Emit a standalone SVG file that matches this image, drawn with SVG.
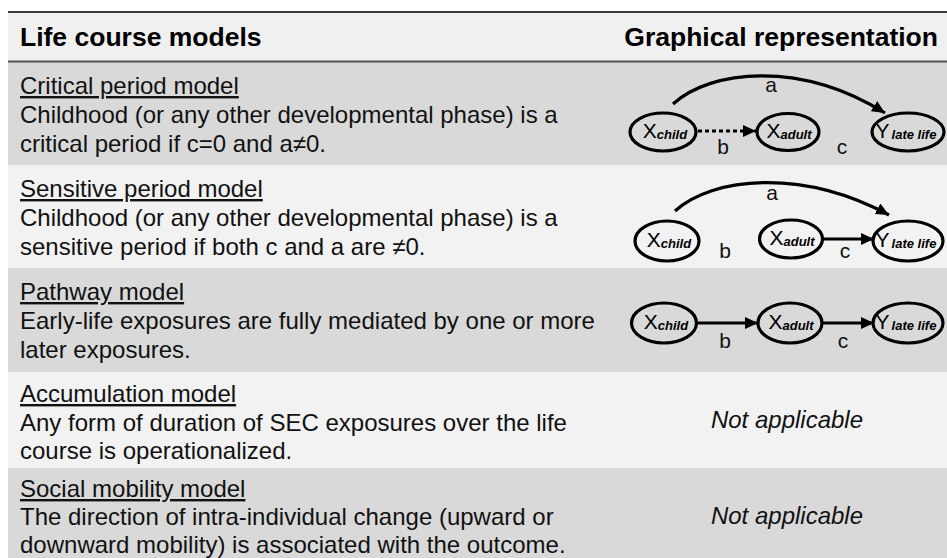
<svg xmlns="http://www.w3.org/2000/svg" width="947" height="558" viewBox="0 0 947 558">
<defs>
<style>
.t{font-family:"Liberation Sans",Arial,sans-serif;font-size:24px;fill:#111}
.h{font-family:"Liberation Sans",Arial,sans-serif;font-size:26.5px;font-weight:bold;fill:#000}
.u{text-decoration:underline}
.na{font-family:"Liberation Sans",Arial,sans-serif;font-size:24px;font-style:italic;fill:#111}
.nd{fill:none;stroke:#000;stroke-width:3.2}
.nt{font-family:"Liberation Sans",Arial,sans-serif;font-size:21px;fill:#000;text-anchor:middle}
.sb{font-size:13px;font-weight:bold;font-style:italic}
.lb{font-family:"Liberation Sans",Arial,sans-serif;font-size:21px;fill:#111;text-anchor:middle}
.ed{fill:none;stroke:#000;stroke-width:3.2}
</style>
<marker id="ah" markerUnits="userSpaceOnUse" markerWidth="14" markerHeight="13" refX="13" refY="6" orient="auto">
<path d="M0,0 L13,6 L0,12 z" fill="#000"/>
</marker>
</defs>
<rect width="947" height="558" fill="#fff"/>
<!-- backgrounds -->
<rect x="8" y="12" width="939" height="50" fill="#f0f0f0"/>
<rect x="8" y="62" width="939" height="103" fill="#d9d9d9"/>
<rect x="8" y="165" width="939" height="103" fill="#f2f2f2"/>
<rect x="8" y="268" width="939" height="104" fill="#d9d9d9"/>
<rect x="8" y="372" width="939" height="96" fill="#f2f2f2"/>
<rect x="8" y="468" width="939" height="90" fill="#d9d9d9"/>
<line x1="8" y1="12" x2="947" y2="12" stroke="#3a3a3a" stroke-width="2"/>
<line x1="8" y1="61.5" x2="947" y2="61.5" stroke="#555" stroke-width="2"/>
<!-- header -->
<text class="h" x="20" y="46">Life course models</text>
<text class="h" x="938" y="46" text-anchor="end">Graphical representation</text>
<!-- row texts -->
<text class="t u" x="20" y="94">Critical period model</text>
<text class="t" x="20" y="123">Childhood (or any other developmental phase) is a</text>
<text class="t" x="20" y="152">critical period if c=0 and a≠0.</text>
<text class="t u" x="20" y="197">Sensitive period model</text>
<text class="t" x="20" y="226">Childhood (or any other developmental phase) is a</text>
<text class="t" x="20" y="255">sensitive period if both c and a are ≠0.</text>
<text class="t u" x="20" y="300">Pathway model</text>
<text class="t" x="20" y="329">Early-life exposures are fully mediated by one or more</text>
<text class="t" x="20" y="358">later exposures.</text>
<text class="t u" x="20" y="402">Accumulation model</text>
<text class="t" x="20" y="431">Any form of duration of SEC exposures over the life</text>
<text class="t" x="20" y="459">course is operationalized.</text>
<text class="t u" x="20" y="497">Social mobility model</text>
<text class="t" x="20" y="525">The direction of intra-individual change (upward or</text>
<text class="t" x="20" y="553">downward mobility) is associated with the outcome.</text>
<text class="na" x="787" y="428" text-anchor="middle">Not applicable</text>
<text class="na" x="787" y="524" text-anchor="middle">Not applicable</text>
<!-- connectors -->
<g id="connectors">
<path class="ed" d="M673,104 C710,70 800,60 885,113" marker-end="url(#ah)"/>
<line class="ed" x1="698" y1="131" x2="756" y2="131" stroke-dasharray="4 3" marker-end="url(#ah)"/>
<path class="ed" d="M675,211 C712,177 802,168 889,215" marker-end="url(#ah)"/>
<line class="ed" x1="823" y1="239" x2="874" y2="239" marker-end="url(#ah)"/>
<line class="ed" x1="697" y1="323" x2="758" y2="323" marker-end="url(#ah)"/>
<line class="ed" x1="823" y1="323" x2="874" y2="323" marker-end="url(#ah)"/>
<text class="lb" x="771" y="92">a</text>
<text class="lb" x="723" y="154">b</text>
<text class="lb" x="842" y="154">c</text>
<text class="lb" x="772" y="200">a</text>
<text class="lb" x="725" y="258">b</text>
<text class="lb" x="845" y="258">c</text>
<text class="lb" x="725" y="348">b</text>
<text class="lb" x="843" y="348">c</text>
</g>
<!-- nodes row 1 -->
<g id="r1-xchild"><ellipse class="nd" cx="663" cy="132" rx="33" ry="19"/><text class="nt" x="665" y="138">X<tspan class="sb" dy="1">child</tspan></text></g>
<g id="r1-xadult"><ellipse class="nd" cx="788" cy="132" rx="31" ry="18.5"/><text class="nt" x="789" y="138">X<tspan class="sb" dy="1">adult</tspan></text></g>
<g id="r1-ylate"><ellipse class="nd" cx="908" cy="132" rx="36" ry="19"/><text class="nt" x="906" y="138">Y<tspan class="sb" dx="2" dy="1">late life</tspan></text></g>
<!-- nodes row 2 -->
<g id="r2-xchild"><ellipse class="nd" cx="667" cy="241" rx="32" ry="20"/><text class="nt" x="669" y="247">X<tspan class="sb" dy="1">child</tspan></text></g>
<g id="r2-xadult"><ellipse class="nd" cx="791" cy="239" rx="31.5" ry="19"/><text class="nt" x="792" y="245">X<tspan class="sb" dy="1">adult</tspan></text></g>
<g id="r2-ylate"><ellipse class="nd" cx="908" cy="241" rx="35" ry="20"/><text class="nt" x="906" y="247">Y<tspan class="sb" dx="2" dy="1">late life</tspan></text></g>
<!-- nodes row 3 -->
<g id="r3-xchild"><ellipse class="nd" cx="664" cy="323" rx="32.5" ry="20"/><text class="nt" x="666" y="329">X<tspan class="sb" dy="1">child</tspan></text></g>
<g id="r3-xadult"><ellipse class="nd" cx="790" cy="323" rx="32" ry="20"/><text class="nt" x="791" y="329">X<tspan class="sb" dy="1">adult</tspan></text></g>
<g id="r3-ylate"><ellipse class="nd" cx="908" cy="323" rx="35" ry="20"/><text class="nt" x="906" y="329">Y<tspan class="sb" dx="2" dy="1">late life</tspan></text></g>
</svg>
